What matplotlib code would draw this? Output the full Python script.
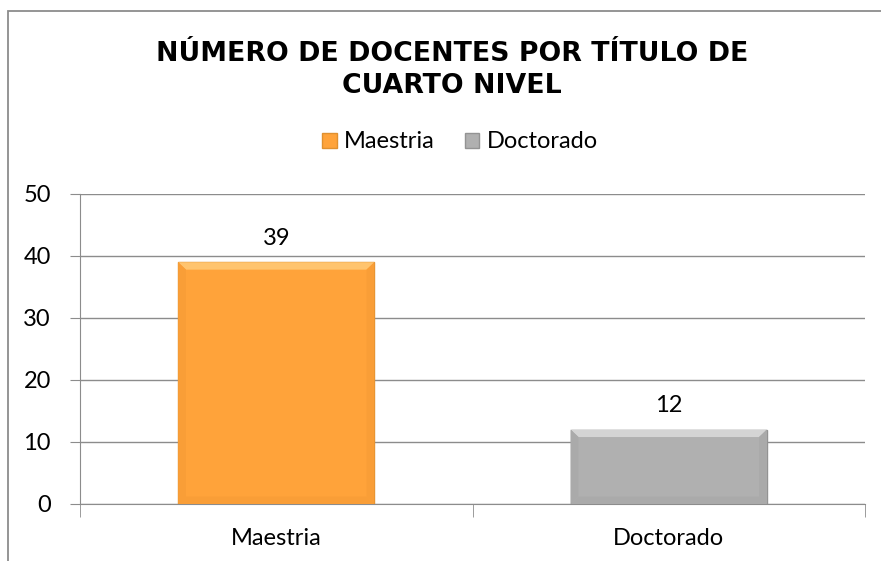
import matplotlib
matplotlib.use("Agg")
import matplotlib.pyplot as plt
from matplotlib.patches import Rectangle, Polygon

categories = ["Maestria", "Doctorado"]
values = [39, 12]
colors = ["#FFA33A", "#B0B0B0"]
edge_colors = ["#E0902F", "#939393"]
light_colors = ["#FFC46E", "#D4D4D4"]
dark_colors = ["#F99E37", "#AAAAAA"]
y_ticks = [0, 10, 20, 30, 40, 50]
title = "NÚMERO DE DOCENTES POR TÍTULO DE\nCUARTO NIVEL"

plt.rcParams["font.family"] = ["Lato", "DejaVu Sans"]

fig = plt.figure(figsize=(8.81, 5.61), dpi=100)
fig.patch.set_facecolor("white")

# outer chart frame
fig.patches.append(Rectangle((8 / 881, -0.1), 1.2, 1.1 - 11 / 561, transform=fig.transFigure,
                             fill=False, edgecolor="#8C8C8C", linewidth=1.3))

ax = fig.add_axes([80 / 881, 1 - 504 / 561, 785 / 881, 310 / 561])
x = range(len(categories))
bars = ax.bar(x, values, width=0.5, color=colors, edgecolor=edge_colors, linewidth=1.0, zorder=3)

# bevel look: light top strip, slightly darker sides and bottom
for bar, light, dark in zip(bars, light_colors, dark_colors):
    bx, bw, bh = bar.get_x(), bar.get_width(), bar.get_height()
    ix = bw * 0.04
    iy = 1.2
    x0, x1 = bx, bx + bw
    ax.add_patch(Polygon([(x0, bh), (x1, bh), (x1 - ix, bh - iy), (x0 + ix, bh - iy)],
                         closed=True, facecolor=light, edgecolor="none", zorder=4))
    ax.add_patch(Polygon([(x0, 0), (x0, bh), (x0 + ix, bh - iy), (x0 + ix, iy)],
                         closed=True, facecolor=dark, edgecolor="none", zorder=4))
    ax.add_patch(Polygon([(x1, 0), (x1, bh), (x1 - ix, bh - iy), (x1 - ix, iy)],
                         closed=True, facecolor=dark, edgecolor="none", zorder=4))
    ax.add_patch(Polygon([(x0, 0), (x1, 0), (x1 - ix, iy), (x0 + ix, iy)],
                         closed=True, facecolor=dark, edgecolor="none", zorder=4))

for bar, v in zip(bars, values):
    ax.text(bar.get_x() + bar.get_width() / 2, v + 3.9, str(v), ha="center", va="center",
            fontsize=17, color="black")

ax.set_xlim(-0.5, len(categories) - 0.5)
ax.set_ylim(0, 50)
ax.set_yticks(y_ticks)
ax.set_xticks(list(x))
ax.set_xticklabels(categories, fontsize=17)
ax.tick_params(axis="y", labelsize=17, length=7, color="#8C8C8C", pad=14)
ax.tick_params(axis="x", length=0, pad=17)
# category separators below the axis
ax.set_xticks([-0.5, 0.5, 1.5], minor=True)
ax.tick_params(axis="x", which="minor", length=9, color="#8C8C8C")

ax.yaxis.grid(True, color="#8C8C8C", linewidth=1.0, zorder=0)
ax.set_axisbelow(True)
for side in ["top", "right"]:
    ax.spines[side].set_visible(False)
for side in ["left", "bottom"]:
    ax.spines[side].set_color("#8C8C8C")

fig.text(452 / 881, 1 - 70 / 561, title, ha="center", va="center", fontsize=19.3, fontweight="bold",
         family="DejaVu Sans", linespacing=1.3)

handles = [Rectangle((0, 0), 1, 1, facecolor=c, edgecolor=e) for c, e in zip(colors, edge_colors)]
fig.legend(handles, categories, loc="center", bbox_to_anchor=(460 / 881, 1 - 142 / 561), ncol=2, frameon=False,
           fontsize=17, handlelength=0.6, handleheight=0.6, handletextpad=0.3, columnspacing=1.3)

fig.savefig("out.png", dpi=100)
